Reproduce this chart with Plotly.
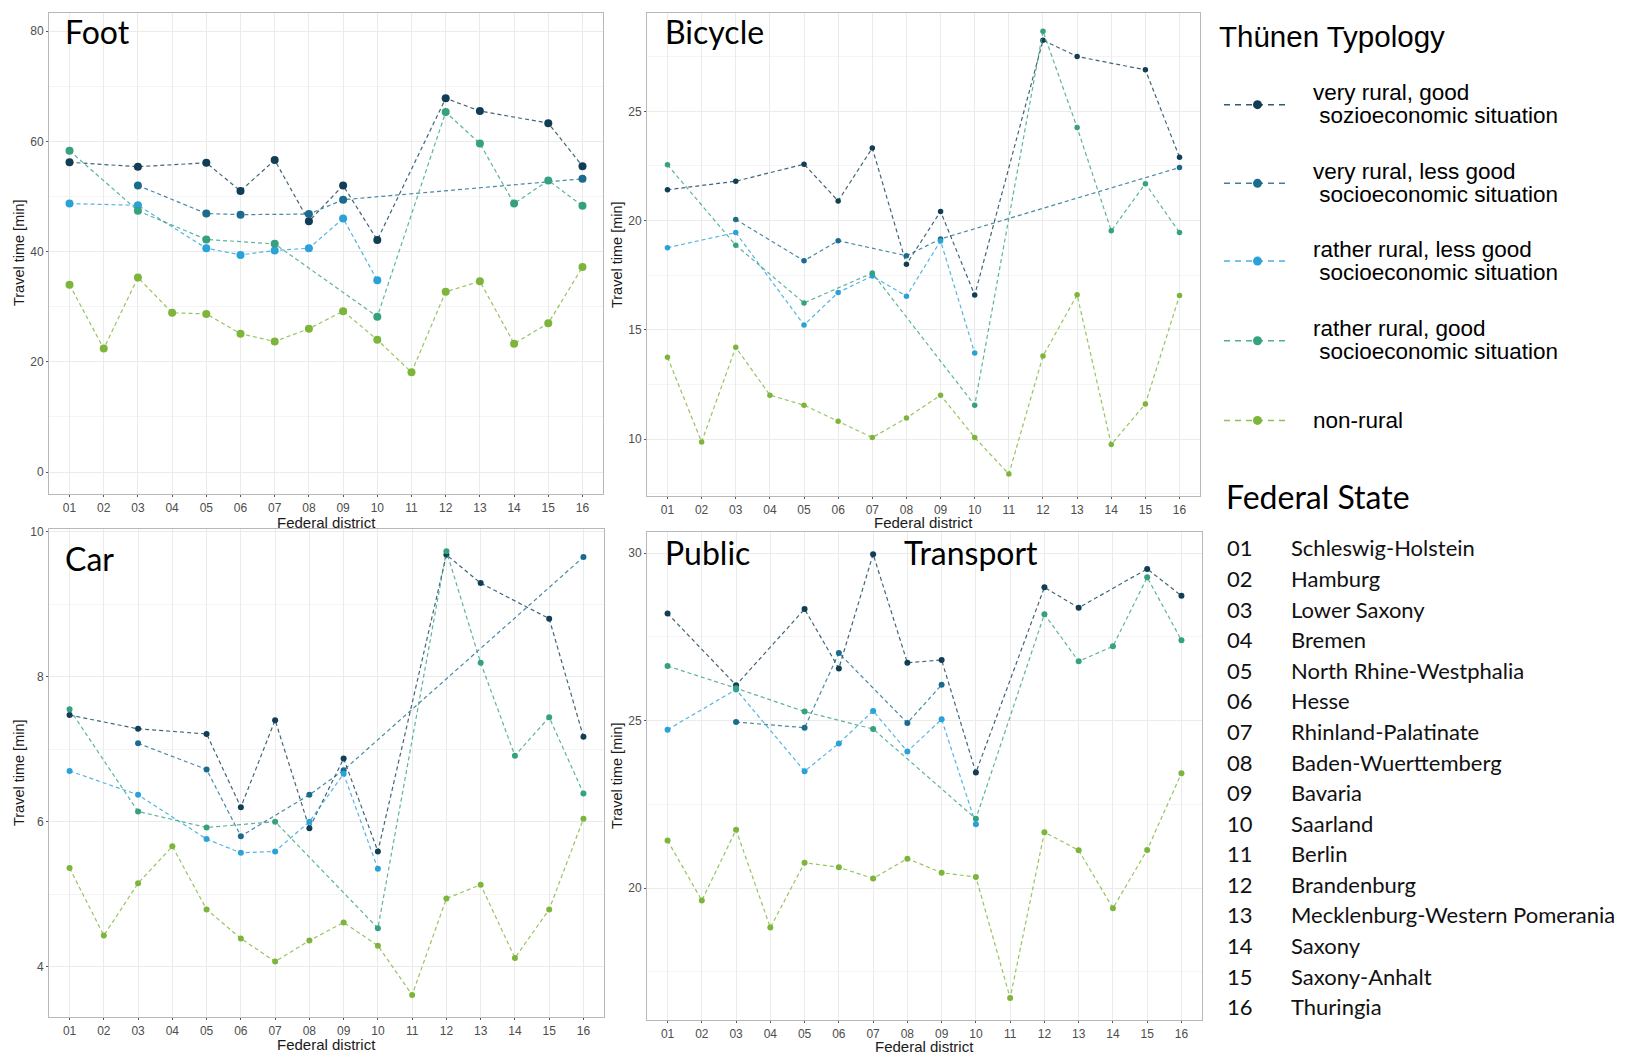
import plotly.graph_objects as go

# ---------------- data ----------------
districts = ["01", "02", "03", "04", "05", "06", "07", "08",
             "09", "10", "11", "12", "13", "14", "15", "16"]
state_names = ["Schleswig-Holstein", "Hamburg", "Lower Saxony", "Bremen",
               "North Rhine-Westphalia", "Hesse", "Rhinland-Palatinate",
               "Baden-Wuerttemberg", "Bavaria", "Saarland", "Berlin",
               "Brandenburg", "Mecklenburg-Western Pomerania", "Saxony",
               "Saxony-Anhalt", "Thuringia"]

typology_line1 = ["very rural, good", "very rural, less good", "rather rural, less good",
                  "rather rural, good", "non-rural"]
typology_line2 = ["sozioeconomic situation", "socioeconomic situation",
                  "socioeconomic situation", "socioeconomic situation", ""]
colors = ["#113e55", "#1b6b8e", "#2aa2d8", "#35a17f", "#7cb53a"]

N = None
# Foot
foot_vr_good = [56.2, N, 55.4, N, 56.1, 51.0, 56.6, 45.5, 52.0, 42.1, N, 67.8, 65.5, N, 63.3, 55.5]
foot_vr_less = [N, N, 52.0, N, 46.9, 46.7, N, 46.8, 49.4, N, N, N, N, N, N, 53.2]
foot_rr_less = [48.7, N, 48.4, N, 40.6, 39.4, 40.2, 40.6, 46.0, 34.8, N, N, N, N, N, N]
foot_rr_good = [58.3, N, 47.4, N, 42.2, N, 41.4, N, N, 28.2, N, 65.3, 59.6, 48.7, 52.9, 48.3]
foot_non_rural = [34.0, 22.4, 35.3, 28.9, 28.7, 25.1, 23.7, 26.0, 29.2, 24.0, 18.1, 32.7, 34.6, 23.3, 27.0, 37.2]

# Bicycle
bike_vr_good = [21.41, N, 21.80, N, 22.58, 20.90, 23.32, 18.00, 20.42, 16.59, N, 28.25, 27.51, N, 26.90, 22.90]
bike_vr_less = [N, N, 20.05, N, 18.16, 19.08, N, 18.39, 19.16, N, N, N, N, N, N, 22.43]
bike_rr_less = [18.76, N, 19.45, N, 15.22, 16.71, 17.46, 16.54, 19.07, 13.94, N, N, N, N, N, N]
bike_rr_good = [22.55, N, 18.87, N, 16.23, N, 17.60, N, N, 11.55, N, 28.67, 24.26, 19.53, 21.69, 19.45]
bike_non_rural = [13.74, 9.87, 14.20, 12.01, 11.55, 10.82, 10.07, 10.96, 12.01, 10.07, 8.40, 13.80, 16.60, 9.75, 11.61, 16.57]

# Car
car_vr_good = [7.47, N, 7.28, N, 7.21, 6.20, 7.40, 5.91, 6.87, 5.59, N, 9.68, 9.29, N, 8.80, 7.17]
car_vr_less = [N, N, 7.08, N, 6.72, 5.80, N, 6.37, 6.71, N, N, N, N, N, N, 9.65]
car_rr_less = [6.70, N, 6.37, N, 5.76, 5.57, 5.59, 6.00, 6.66, 5.35, N, N, N, N, N, N]
car_rr_good = [7.55, N, 6.14, N, 5.92, N, 6.00, N, N, 4.53, N, 9.73, 8.19, 6.91, 7.44, 6.39]
car_non_rural = [5.36, 4.43, 5.15, 5.66, 4.79, 4.39, 4.07, 4.36, 4.61, 4.29, 3.61, 4.94, 5.13, 4.12, 4.79, 6.04]

# Public Transport
pt_vr_good = [28.20, N, 26.06, N, 28.33, 26.56, 29.97, 26.73, 26.81, 23.45, N, 28.98, 28.37, N, 29.53, 28.73]
pt_vr_less = [N, N, 24.96, N, 24.79, 27.02, N, 24.93, 26.07, N, N, N, N, N, N, N]
pt_rr_less = [24.73, N, 25.93, N, 23.49, 24.32, 25.29, 24.08, 25.04, 21.91, N, N, N, N, N, N]
pt_rr_good = [26.63, N, 25.97, N, 25.27, N, 24.75, N, N, 22.07, N, 28.18, 26.77, 27.22, 29.28, 27.40]
pt_non_rural = [21.42, 19.63, 21.74, 18.82, 20.76, 20.62, 20.29, 20.88, 20.46, 20.33, 16.72, 21.67, 21.13, 19.40, 21.14, 23.43]

panels = [
    dict(name="Foot", series=[foot_vr_good, foot_vr_less, foot_rr_less, foot_rr_good, foot_non_rural],
         limits=(0, 80), dtick=20, tick0=0, msize=8),
    dict(name="Bicycle", series=[bike_vr_good, bike_vr_less, bike_rr_less, bike_rr_good, bike_non_rural],
         limits=None, dtick=5, tick0=10, msize=5.5),
    dict(name="Car", series=[car_vr_good, car_vr_less, car_rr_less, car_rr_good, car_non_rural],
         limits=None, dtick=2, tick0=4, msize=6),
    dict(name="Public", series=[pt_vr_good, pt_vr_less, pt_rr_less, pt_rr_good, pt_non_rural],
         limits=None, dtick=5, tick0=20, msize=6),
]

# ---------------- layout helpers ----------------
# page offset of the plot div inside the browser window
OX, OY = 8, 10
W, H = 1627 - OX, 1059 - OY
def px(x):
    return (x - OX) / W
def py(y):
    return 1 - (y - OY) / H

# (x-extent), (nominal top, bottom), drawn top
domains = [
    ([49, 603], [7, 494], 11),
    ([647, 1200], [7, 496], 11),
    ([49, 604], [529, 1019], 529),
    ([647, 1202], [532, 1022], 532),
]

def hex_rgba(h, a):
    h = h.lstrip("#")
    return "rgba(%d,%d,%d,%.2f)" % (int(h[0:2], 16), int(h[2:4], 16), int(h[4:6], 16), a)

fig = go.Figure()
xnums = [int(d) for d in districts]
tickfont = dict(family="Liberation Sans, Arial", size=12, color="#4d4d4d")

for i, p in enumerate(panels):
    ax = "" if i == 0 else str(i + 1)
    for k, vals in enumerate(p["series"]):
        fig.add_trace(go.Scatter(
            x=xnums, y=vals, mode="lines+markers", connectgaps=True,
            line=dict(color=hex_rgba(colors[k], 0.8), width=1.2, dash="4px,3px"),
            marker=dict(color=colors[k], size=p["msize"]),
            xaxis="x" + ax, yaxis="y" + ax, showlegend=False,
            name=typology_line1[k]))
    allv = [v for s in p["series"] for v in s if v is not None]
    if p["limits"]:
        lo, hi = p["limits"]
    else:
        lo, hi = min(allv), max(allv)
    pad = (hi - lo) * 0.05
    r0, r1 = lo - pad, hi + pad
    (x0, x1), (y0, y1), ytop = domains[i]
    # trim the top of the range if the drawn top is below the nominal one
    r1 = r1 - (ytop - y0) / (y1 - y0) * (r1 - r0)
    xa = dict(domain=[px(x0), px(x1)], range=[0.4, 16.6], tickmode="array",
              tickvals=xnums, ticktext=districts, showgrid=True, gridcolor="#ebebeb",
              gridwidth=1, zeroline=False, showline=True, linecolor="#b8b8b8",
              linewidth=1, mirror=True, ticks="outside", ticklen=2, tickcolor="#555",
              tickfont=tickfont, anchor="y" + ax)
    ya = dict(domain=[py(y1), py(ytop)], range=[r0, r1], tickmode="linear",
              tick0=p["tick0"], dtick=p["dtick"], showgrid=True, gridcolor="#ebebeb",
              gridwidth=1, zeroline=False, showline=True, linecolor="#b8b8b8",
              linewidth=1, mirror=True, ticks="outside", ticklen=2, tickcolor="#555",
              tickfont=tickfont,
              minor=dict(dtick=p["dtick"] / 2, tick0=p["tick0"], showgrid=True,
                         gridcolor="#f4f4f4", gridwidth=1),
              anchor="x" + ax)
    fig.layout["xaxis" + ax] = xa
    fig.layout["yaxis" + ax] = ya

annotations = []
shapes = []
def text(x, y, s, size, family="Liberation Sans, Arial", color="#000", xanchor="left", angle=0):
    annotations.append(dict(x=px(x), y=py(y), xref="paper", yref="paper", text=s,
                            showarrow=False, xanchor=xanchor, yanchor="middle",
                            textangle=angle,
                            font=dict(family=family, size=size, color=color)))

# panel titles
text(63, 30, "Foot", 32, "Lato")
text(663, 30, "Bicycle", 32, "Lato")
text(63, 559, "Car", 32, "Lato")
text(663, 553, "Public", 32, "Lato")
text(902, 553, "Transport", 32, "Lato")

# axis titles
for cx, cy in [(326, 522.5), (923, 522.5), (326, 1046), (924, 1048.5)]:
    text(cx, cy, "Federal district", 15, xanchor="center", color="#1a1a1a")
for cx, cy in [(19, 252), (617, 254), (19, 774), (617, 777)]:
    text(cx, cy, "Travel time [min]", 14.5, xanchor="center", color="#1a1a1a", angle=-90)

# Thünen typology legend
text(1217, 35, "Thünen Typology", 29.5)
item_y = [103, 182, 260, 340, 420]
for k in range(5):
    yc = item_y[k]
    shapes.append(dict(type="line", xref="paper", yref="paper",
                       x0=px(1224), x1=px(1289), y0=py(yc), y1=py(yc),
                       line=dict(color=hex_rgba(colors[k], 0.85), width=1.5, dash="6px,5px")))
    r = 4.5
    shapes.append(dict(type="circle", xref="paper", yref="paper",
                       x0=px(1257.5 - r), x1=px(1257.5 + r), y0=py(yc + r), y1=py(yc - r),
                       fillcolor=colors[k], line=dict(width=0)))
    if typology_line2[k]:
        text(1311, yc - 12, typology_line1[k], 22.5)
        text(1311, yc + 11, "&nbsp;" + typology_line2[k], 22.5)
    else:
        text(1311, yc, typology_line1[k], 22.5)

# Federal State table
text(1224, 496, "Federal State", 32, "Lato")
for j, (code, nm) in enumerate(zip(districts, state_names)):
    yy = 548 + j * 30.7
    text(1225, yy, code, 22, "Lato", "#111")
    text(1289, yy, nm, 22, "Lato", "#111")

fig.update_layout(width=W, height=H, margin=dict(l=0, r=0, t=0, b=0),
                  paper_bgcolor="white", plot_bgcolor="white",
                  annotations=annotations, shapes=shapes, showlegend=False)

fig.write_html("out.html")
